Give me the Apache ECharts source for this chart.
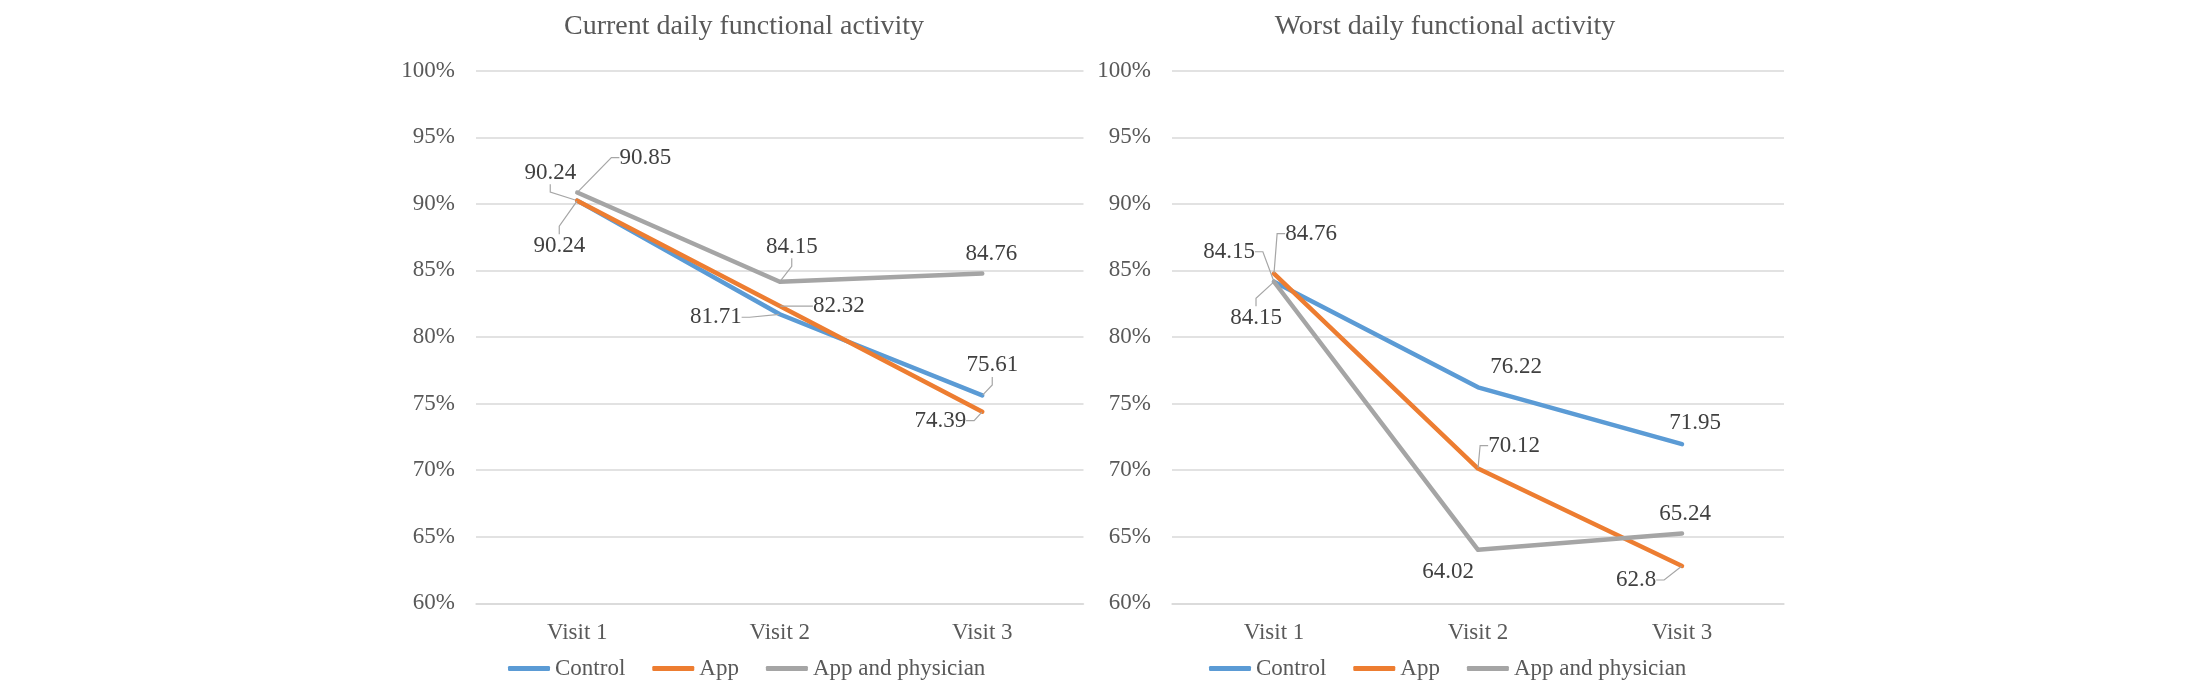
<!DOCTYPE html>
<html>
<head>
<meta charset="utf-8">
<script src="https://cdn.jsdelivr.net/npm/echarts@6/dist/echarts.min.js"></script>
<style>
html,body{margin:0;padding:0;background:#fff;}
#chart{width:2200px;height:697px;}
</style>
</head>
<body>
<div id="chart"></div>
<script>
// ---- data ----
const categories = ['Visit 1', 'Visit 2', 'Visit 3'];
const seriesNames = ['Control', 'App', 'App and physician'];
const titles = ['Current daily functional activity', 'Worst daily functional activity'];

const currentControl = [90.24, 81.71, 75.61];
const currentApp = [90.24, 82.32, 74.39];
const currentAppPhysician = [90.85, 84.15, 84.76];

const worstControl = [84.15, 76.22, 71.95];
const worstApp = [84.76, 70.12, 62.8];
const worstAppPhysician = [84.15, 64.02, 65.24];

const yMin = 60, yMax = 100, yInterval = 5;

// ---- style / layout config ----
const colors = ['#5B9BD5', '#ED7D31', '#A5A5A5'];
const FONT = '"Liberation Serif", "Times New Roman", serif';
const grids = [
  { left: 476, top: 70.7, width: 607.5, height: 532.6 },
  { left: 1172, top: 70.7, width: 612, height: 532.6 }
];
const titleCenters = [744, 1445];
const legendLefts = [508, 1209];

// label offsets [dx, dy] from the point (label centre), per chart / series / point
const labelOffsets = [
  [ [[-27, -28], [-64, 3], [10, -30]],
    [[-18, 45], [59, 0], [-42, 9]],
    [[68, -35], [12, -35], [9, -20]] ],
  [ [[-45, -30], [38, -20], [13, -21]],
    [[37, -40], [36, -23], [-46, 14]],
    [[-18, 36], [-30, 22], [3, -20]] ]
];
const leaderShown = [
  [[1, 1, 1], [1, 1, 1], [1, 1, 0]],
  [[1, 0, 0], [1, 1, 1], [1, 0, 0]]
];

const chartData = [
  [currentControl, currentApp, currentAppPhysician],
  [worstControl, worstApp, worstAppPhysician]
];

const chart = echarts.init(document.getElementById('chart'), null, { renderer: 'canvas' });

const series = [];
chartData.forEach((group, ci) => {
  group.forEach((vals, si) => {
    series.push({
      name: seriesNames[si],
      type: 'line',
      xAxisIndex: ci,
      yAxisIndex: ci,
      data: vals.map((v, di) => ({
        value: v,
        labelLine: { show: !!leaderShown[ci][si][di] }
      })),
      symbol: 'circle',
      symbolSize: 1,
      showSymbol: true,
      color: colors[si],
      lineStyle: { width: 4.5, color: colors[si], cap: 'round', join: 'round' },
      itemStyle: { color: colors[si] },
      label: {
        show: true,
        position: 'inside',
        fontFamily: FONT,
        fontSize: 23,
        color: '#404040'
      },
      labelLine: {
        show: true,
        length2: 8,
        lineStyle: { color: '#A6A6A6', width: 1.2 }
      },
      labelLayout: (params) => {
        const off = labelOffsets[ci][si][params.dataIndex];
        return { dx: off[0], dy: off[1] };
      },
      emphasis: { disabled: true },
      animation: false,
      z: 2 + si
    });
  });
});

const option = {
  backgroundColor: '#ffffff',
  animation: false,
  title: titles.map((t, i) => ({
    text: t,
    left: titleCenters[i],
    top: 13,
    padding: 0,
    textAlign: 'center',
    textStyle: { fontFamily: FONT, fontSize: 28, fontWeight: 'normal', color: '#595959' }
  })),
  legend: [0, 1].map(i => ({
    data: seriesNames,
    left: legendLefts[i],
    top: 657,
    padding: 0,
    itemWidth: 42,
    itemHeight: 5,
    itemGap: 27,
    icon: 'roundRect',
    selectedMode: false,
    textStyle: { fontFamily: FONT, fontSize: 23, color: '#595959' }
  })),
  grid: grids,
  xAxis: grids.map((g, i) => ({
    type: 'category',
    gridIndex: i,
    data: categories,
    boundaryGap: true,
    axisLine: { show: true, lineStyle: { color: '#D9D9D9', width: 1.5 } },
    axisTick: { show: false },
    axisLabel: { margin: 18, fontFamily: FONT, fontSize: 23, color: '#595959' },
    splitLine: { show: false }
  })),
  yAxis: grids.map((g, i) => ({
    type: 'value',
    gridIndex: i,
    min: yMin,
    max: yMax,
    interval: yInterval,
    axisLine: { show: false },
    axisTick: { show: false },
    axisLabel: { margin: 21, formatter: '{value}%', fontFamily: FONT, fontSize: 23, color: '#595959' },
    splitLine: { show: true, lineStyle: { color: '#D9D9D9', width: 1.5 } }
  })),
  series: series
};

chart.setOption(option);
</script>
</body>
</html>
